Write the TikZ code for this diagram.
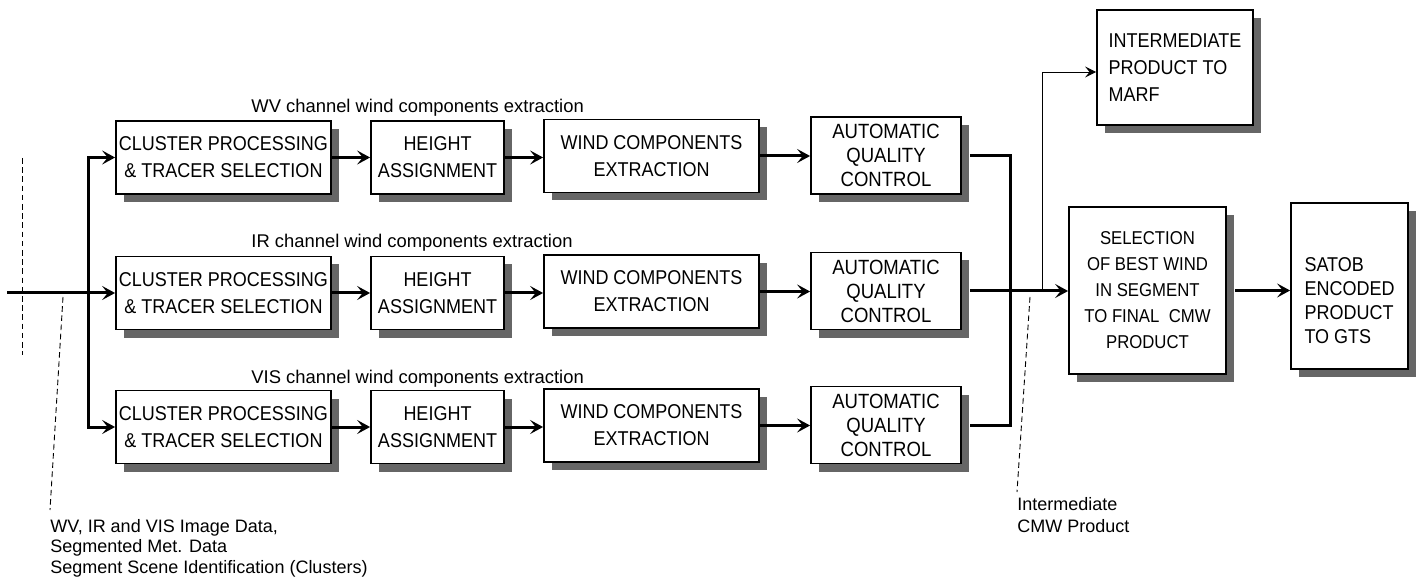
\documentclass[tikz,border=0pt]{standalone}
\usepackage{fontspec}
\setmainfont{Liberation Sans}
\newfontfamily\boxfont{Liberation Sans}[FakeStretch=0.9]
\usetikzlibrary{arrows.meta,shadows}

\tikzset{
  blk/.style={draw, line width=0.9pt, fill=white, rectangle, inner sep=0pt,
    align=center, font=\boxfont\fontsize{10}{13.5}\selectfont,
    drop shadow={shadow xshift=4pt, shadow yshift=-4pt, fill=black!60, opacity=1}},
  boxtext/.style={inner sep=0pt, align=left},
  flow/.style={line width=1.5pt, -{Stealth[length=6.5pt,width=7pt,inset=2.8pt]}},
  heavy/.style={line width=1.5pt},
  thinflow/.style={line width=0.45pt, -{Stealth[length=5.5pt,width=5.5pt,inset=2.2pt]}},
  dsh/.style={line width=0.45pt, dash pattern=on 2.8pt off 1.8pt},
  lbl/.style={inner sep=0pt, anchor=base west, font=\fontsize{9.2}{11}\selectfont},
  note/.style={inner sep=0pt, anchor=base west, font=\fontsize{9}{11}\selectfont},
}

\begin{document}
\begin{tikzpicture}[x=0.5pt,y=-0.5pt]
\useasboundingbox (0,0) rectangle (1424,577);

% channel titles
\node[lbl] (twv)  at (251,113) {WV channel wind components extraction};
\node[lbl] (tir)  at (251,248) {IR channel wind components extraction};
\node[lbl] (tvis) at (251,383) {VIS channel wind components extraction};

% processing chains, one row per channel
\foreach \r/\y in {1/157.5, 2/293, 3/427} {
  \node[blk, minimum width=107.5pt, minimum height=36.5pt] (cl\r) at (223.5,\y)
    {CLUSTER PROCESSING\\\& TRACER SELECTION};
  \node[blk, minimum width=66.5pt, minimum height=36.5pt] (h\r) at (437.5,\y)
    {HEIGHT\\ASSIGNMENT};
  \node[blk, minimum width=107.5pt, minimum height=36.5pt] (w\r) at (651.5,\y-1.5)
    {WIND COMPONENTS\\EXTRACTION};
  \node[blk, minimum width=75pt, minimum height=38.5pt,
        font=\boxfont\fontsize{10.3}{12}\selectfont] (q\r) at (886,\y-2)
    {AUTOMATIC\\QUALITY\\CONTROL};
}

% products
\node[blk, minimum width=78pt, minimum height=57.5pt, align=left] (inter) at (1175,67.5)
  {INTERMEDIATE\\PRODUCT TO\\MARF};
\node[blk, minimum width=78.5pt, minimum height=83.5pt,
      font=\boxfont\fontsize{9.3}{13}\selectfont] (sel) at (1147.5,290.5)
  {SELECTION\\OF BEST WIND\\IN SEGMENT\\TO FINAL\ \ CMW\\PRODUCT};
\node[blk, minimum width=58.5pt, minimum height=83pt] (satob) at (1349.5,286) {};
\node[boxtext, font=\boxfont\fontsize{10}{12}\selectfont] (satobtxt)
  at ([yshift=-7.5pt]satob.center) {SATOB\\ENCODED\\PRODUCT\\TO GTS};

% input feed and split to the three channels
\coordinate (in) at (7,293);
\coordinate (split) at (88,293);
\draw[flow] (in) -- (cl2.west);
\draw[flow] (split) |- (cl1.west);
\draw[flow] (split) |- (cl3.west);

% chain connectors
\foreach \r in {1,2,3} {
  \draw[flow] (cl\r.east) -- (h\r.west);
  \draw[flow] (h\r.east) -- (h\r.east -| w\r.west);
  \draw[flow] (w\r.east) -- (w\r.east -| q\r.west);
}

% merge of the quality-controlled outputs
\coordinate (jbot) at (1010,425);
\draw[heavy] ([xshift=4pt]q1.east) -| (jbot) -- ([xshift=4pt]q3.east);
\draw[flow] ([xshift=4pt]q2.east) -- (q2.east -| sel.west);
\coordinate (br) at (1042,291);
\draw[thinflow] (br) |- ([yshift=-2.25pt]inter.west);
\draw[flow] ([xshift=4pt]sel.east) -- (sel.east -| satob.west);

% input data annotation
\coordinate (d1a) at (22,158);
\coordinate (d1b) at (22,355);
\draw[dsh] (d1a) -- (d1b);
\coordinate (d2a) at (63,297);
\coordinate (d2b) at (50,510);
\draw[dsh] (d2a) -- (d2b);
\node[note] (n1) at (50,532) {WV, IR and VIS Image Data,};
\node[note] (n2) at (50,552.5) {Segmented Met. Data};
\node[note] (n3) at (50,573) {Segment Scene Identification (Clusters)};

% intermediate product annotation
\coordinate (d3a) at (1030,297);
\coordinate (d3b) at (1017,492);
\draw[dsh] (d3a) -- (d3b);
\node[note] (m1) at (1017,510) {Intermediate};
\node[note] (m2) at (1017,532) {CMW Product};
\end{tikzpicture}
\end{document}
